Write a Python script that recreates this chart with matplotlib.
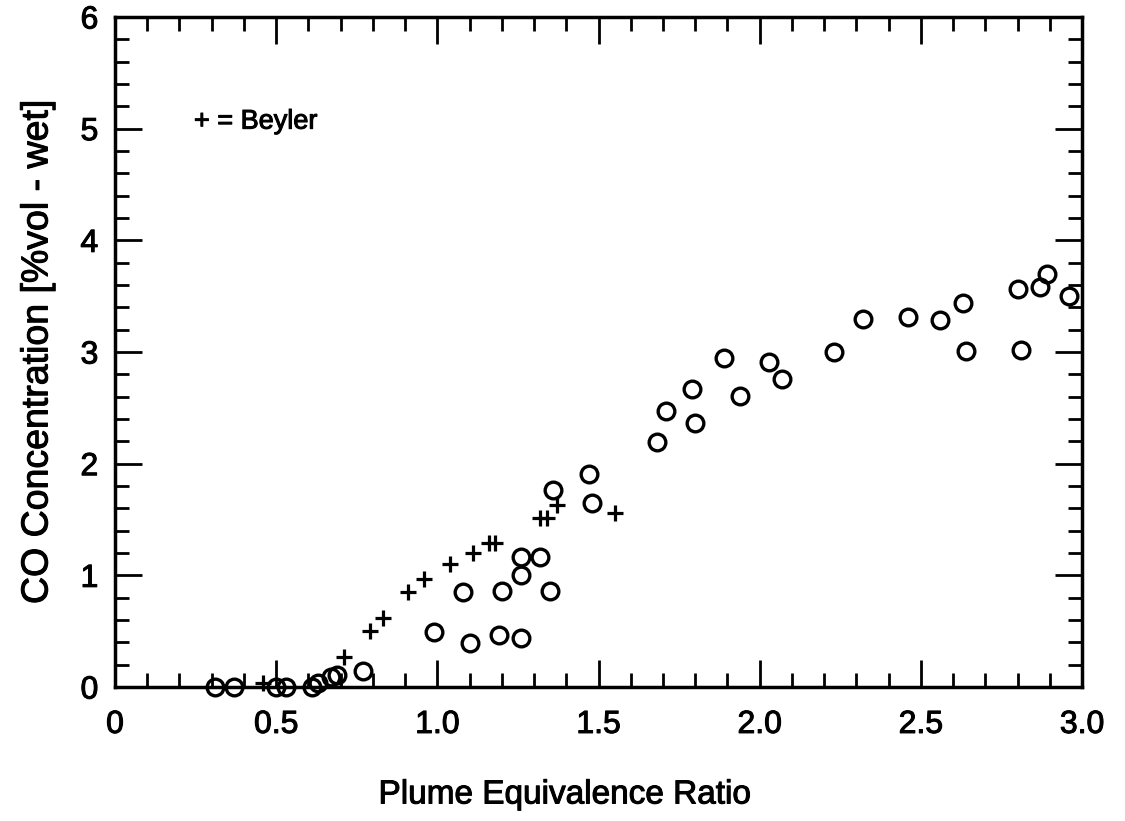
import matplotlib
matplotlib.use("Agg")
import matplotlib.pyplot as plt
import matplotlib.patheffects as pe
from matplotlib.ticker import MultipleLocator

plt.rcParams['font.family'] = ['Liberation Sans', 'DejaVu Sans']

# measured data (circles)
phi_circ = [0.31, 0.37, 0.50, 0.53, 0.61, 0.63, 0.67, 0.69, 0.77,
            0.99, 1.08, 1.10, 1.19, 1.20, 1.26, 1.26, 1.26, 1.32, 1.35,
            1.36, 1.47, 1.48, 1.68, 1.71, 1.79, 1.80, 1.89, 1.94, 2.03,
            2.07, 2.23, 2.32, 2.46, 2.56, 2.63, 2.64, 2.80, 2.81, 2.87,
            2.89, 2.96]
co_circ = [0.00, 0.00, 0.00, 0.00, 0.00, 0.04, 0.09, 0.11, 0.14,
           0.49, 0.85, 0.39, 0.47, 0.86, 0.44, 1.00, 1.16, 1.16, 0.86,
           1.76, 1.91, 1.65, 2.19, 2.47, 2.67, 2.36, 2.95, 2.61, 2.91,
           2.76, 3.00, 3.30, 3.31, 3.29, 3.44, 3.01, 3.56, 3.02, 3.58,
           3.70, 3.50]

# Beyler data (plus signs)
phi_beyler = [0.46, 0.71, 0.79, 0.83, 0.91, 0.96, 1.04, 1.11, 1.16, 1.18,
              1.32, 1.34, 1.37, 1.55]
co_beyler = [0.04, 0.27, 0.50, 0.62, 0.85, 0.97, 1.10, 1.20, 1.29, 1.29,
             1.51, 1.51, 1.63, 1.56]

xtick_vals = [0, 0.5, 1.0, 1.5, 2.0, 2.5, 3.0]
xtick_labels = ['0', '0.5', '1.0', '1.5', '2.0', '2.5', '3.0']

# scanned print look: slightly heavier text
heavy = [pe.withStroke(linewidth=0.75, foreground='black')]

fig = plt.figure(figsize=(11.25, 8.21), dpi=100)
ax = fig.add_axes([0.1022, 0.1632, 0.8596, 0.8161])

ax.plot(phi_circ, co_circ, linestyle='none', marker='o', markersize=12,
        markerfacecolor='none', markeredgecolor='black', markeredgewidth=2.4,
        clip_on=False, zorder=3)
ax.plot(phi_beyler, co_beyler, linestyle='none', marker='+', markersize=12,
        markeredgecolor='black', markeredgewidth=2.3, clip_on=False, zorder=3)

ax.set_xlim(0, 3.0)
ax.set_ylim(0, 6)
ax.xaxis.set_minor_locator(MultipleLocator(0.1))
ax.yaxis.set_major_locator(MultipleLocator(1))
ax.yaxis.set_minor_locator(MultipleLocator(0.2))
ax.set_xticks(xtick_vals)
ax.set_xticklabels(xtick_labels)

ax.tick_params(which='both', direction='in', top=True, right=True,
               width=2, colors='black')
ax.tick_params(which='major', length=19.5, labelsize=23)
ax.tick_params(which='minor', length=10)
ax.tick_params(axis='x', which='major', pad=16.5)
ax.tick_params(axis='y', which='major', pad=12)
for s in ax.spines.values():
    s.set_linewidth(2.5)

ax.set_xlabel('Plume Equivalence Ratio', fontsize=24)
ax.xaxis.set_label_coords(0.465, -0.138)
ax.set_ylabel('CO Concentration [%vol - wet]', fontsize=27, labelpad=18)

ax.text(0.245, 5.0, '+ = Beyler', fontsize=19.5, ha='left', va='baseline',
        path_effects=heavy)

for t in ax.get_xticklabels() + ax.get_yticklabels():
    t.set_path_effects(heavy)
ax.xaxis.label.set_path_effects(heavy)
ax.yaxis.label.set_path_effects(heavy)

fig.savefig('out.png', dpi=100)
